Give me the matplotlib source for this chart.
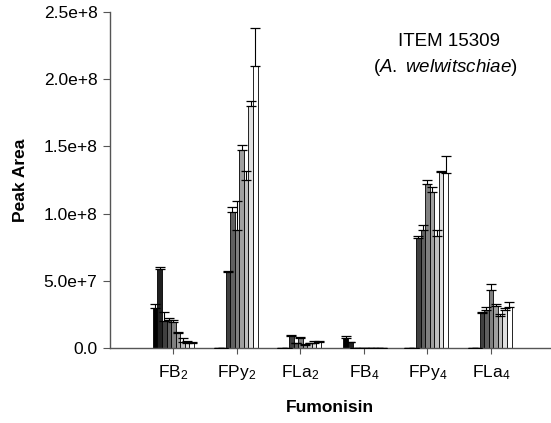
import numpy as np
import matplotlib.pyplot as plt

plt.rcParams['font.family'] = ['Liberation Sans', 'DejaVu Sans']
plt.rcParams['mathtext.fontset'] = 'custom'
plt.rcParams['mathtext.rm'] = 'Liberation Sans'
plt.rcParams['mathtext.it'] = 'Liberation Sans:italic'

# data (peak area, units of 1e6)
groups = ['FB$_\\mathregular{2}$', 'FPy$_\\mathregular{2}$', 'FLa$_\\mathregular{2}$',
          'FB$_\\mathregular{4}$', 'FPy$_\\mathregular{4}$', 'FLa$_\\mathregular{4}$']
vals = [
    [30, 58.8, 20, 21, 19.6, 11.4, 4.7, 4, 3.5],
    [0, 0, 56.3, 101, 88, 147, 125, 180, 210],
    [0, 0, 9, 3.5, 7.2, 2.5, 3.5, 4, 4.5],
    [7.7, 4.2, 0, 0, 0, 0, 0, 0, 0],
    [0, 0, 82, 88, 122, 116, 83, 131, 130],
    [0, 0, 26.3, 28, 43, 31, 23.8, 28, 30.5],
]
tops = [
    [33, 60.5, 27, 22.5, 20.5, 12, 7.6, 5, 4.5],
    [0, 0, 57, 105, 109.6, 151, 132, 184, 238],
    [0, 0, 9.7, 4, 8, 3, 4, 5, 5],
    [9, 4.7, 0, 0, 0, 0, 0, 0, 0],
    [0, 0, 83, 91.5, 125, 120, 88, 132, 143],
    [0, 0, 27, 30.5, 47.4, 32.5, 25.3, 30, 34],
]
yticklabels = ['0.0', '5.0e+7', '1.0e+8', '1.5e+8', '2.0e+8', '2.5e+8']

vals = np.array(vals) * 1e6
tops = np.array(tops) * 1e6
nser = vals.shape[1]
w = 0.072
xg = np.arange(1, len(groups) + 1)
shades = np.linspace(0, 1, nser)

fig = plt.figure(figsize=(5.51, 4.23), dpi=100)
ax = fig.add_axes([110/551, 1 - 348/423, 440/551, 336/423])

for i in range(nser):
    x = xg + (i - (nser - 1) / 2) * w
    c = str(shades[i])
    ax.bar(x, vals[:, i], width=w, color=c, edgecolor='black', linewidth=0.6, zorder=2)
    err = tops[:, i] - vals[:, i]
    ax.errorbar(x, vals[:, i], yerr=[np.zeros_like(err), err], fmt='none',
                ecolor='black', elinewidth=0.8, capsize=3.4, capthick=0.9, zorder=3)

ax.set_xlim(0, 6.93)
ax.set_ylim(0, 2.5e8)
ax.set_yticks(np.arange(6) * 5e7)
ax.set_yticklabels(yticklabels)
ax.set_xticks(xg)
ax.set_xticklabels(groups)
for s in ['top', 'right']:
    ax.spines[s].set_visible(False)
for s in ['left', 'bottom']:
    ax.spines[s].set_color('#555555')
    ax.spines[s].set_linewidth(1.0)
ax.tick_params(axis='y', direction='out', length=5, color='#555555', labelsize=12.5, pad=4)
ax.tick_params(axis='x', direction='out', length=4, color='#555555', labelsize=12.5, pad=7)

ax.set_xlabel('Fumonisin', fontsize=12.5, fontweight='bold', labelpad=13)
ax.set_ylabel('Peak Area', fontsize=12.5, fontweight='bold', labelpad=11)

fig.text(449/551, 1 - 42/423, 'ITEM 15309', ha='center', va='center', fontsize=13.5)
fig.text(445/551, 1 - 67/423, '($\\it{A.\\ welwitschiae}$)', ha='center', va='center', fontsize=13.5)

fig.savefig('out.png', dpi=100)
